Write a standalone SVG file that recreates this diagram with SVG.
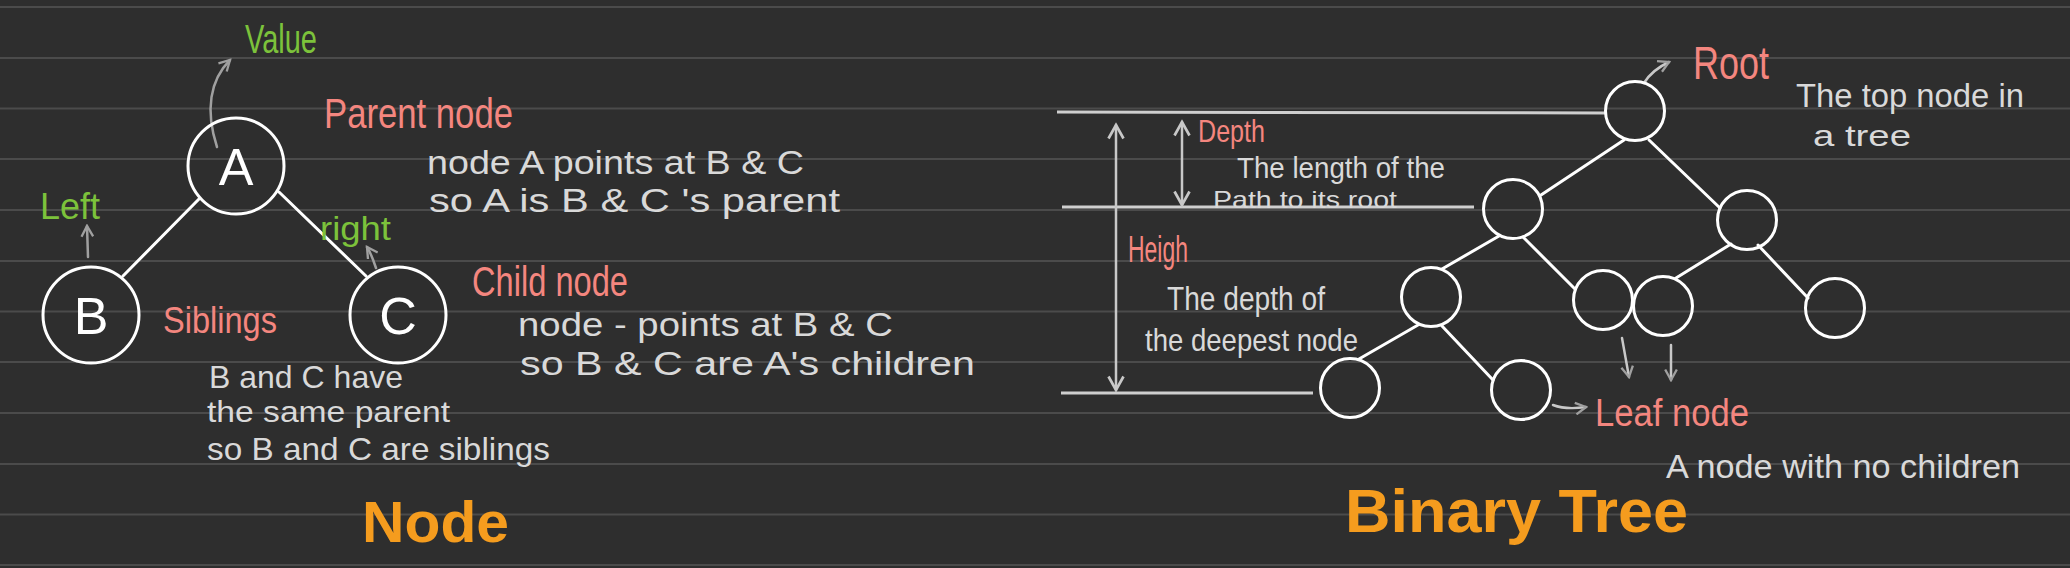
<svg xmlns="http://www.w3.org/2000/svg" width="2070" height="568" viewBox="0 0 2070 568">
<defs>
<style>
.rule{stroke:#4b4b4b;stroke-width:2}
.node{fill:none;stroke:#ffffff;stroke-width:3}
.edge{stroke:#ffffff;stroke-width:3;fill:none;stroke-linecap:round}
.meas{stroke:#cfcfcf;stroke-width:3;fill:none}
.arr{stroke:#a0a0a0;stroke-width:2.5;fill:none;stroke-linecap:round}
.arrl{stroke:#c8c8c8;stroke-width:2.5;fill:none;stroke-linecap:round}
text{font-family:"Liberation Sans","Noto Sans",sans-serif}
.lbl{fill:#ffffff;font-size:52px;text-anchor:middle}
.w{fill:#d9d9d9}
.pk{fill:#f4867f}
.gr{fill:#7cc23b}
.or{fill:#f59c1e;font-weight:bold}
</style>
<marker id="ah" viewBox="0 0 12 12" refX="10" refY="6" markerWidth="14" markerHeight="14" markerUnits="userSpaceOnUse" orient="auto-start-reverse">
<path d="M1,1 L10,6 L1,11" fill="none" stroke="#a0a0a0" stroke-width="2"/>
</marker>
<marker id="ahl" viewBox="0 0 12 12" refX="10" refY="6" markerWidth="18" markerHeight="18" markerUnits="userSpaceOnUse" orient="auto-start-reverse">
<path d="M1,1 L10,6 L1,11" fill="none" stroke="#c8c8c8" stroke-width="1.8"/>
</marker>
</defs>
<rect width="2070" height="568" fill="#2e2e2e"/>
<g id="ruled-lines">
<line class="rule" x1="0" y1="7" x2="2070" y2="7"/>
<line class="rule" x1="0" y1="58" x2="2070" y2="58"/>
<line class="rule" x1="0" y1="108.5" x2="2070" y2="108.5"/>
<line class="rule" x1="0" y1="159" x2="2070" y2="159"/>
<line class="rule" x1="0" y1="210" x2="2070" y2="210"/>
<line class="rule" x1="0" y1="261" x2="2070" y2="261"/>
<line class="rule" x1="0" y1="311.5" x2="2070" y2="311.5"/>
<line class="rule" x1="0" y1="362" x2="2070" y2="362"/>
<line class="rule" x1="0" y1="413" x2="2070" y2="413"/>
<line class="rule" x1="0" y1="464" x2="2070" y2="464"/>
<line class="rule" x1="0" y1="514.5" x2="2070" y2="514.5"/>
<line class="rule" x1="0" y1="565" x2="2070" y2="565"/>
</g>
<g id="connectors">
<line class="edge" x1="199" y1="199" x2="123" y2="276"/>
<line class="edge" x1="279" y1="192" x2="366" y2="276"/>
<line class="edge" x1="1624" y1="140" x2="1541" y2="195"/>
<line class="edge" x1="1649" y1="140" x2="1720" y2="208"/>
<line class="edge" x1="1499" y1="236" x2="1442" y2="269"/>
<line class="edge" x1="1523" y1="237" x2="1575" y2="289"/>
<line class="edge" x1="1731" y1="244" x2="1676" y2="278"/>
<line class="edge" x1="1758" y1="245" x2="1808" y2="298"/>
<line class="edge" x1="1418" y1="325" x2="1359" y2="359"/>
<line class="edge" x1="1442" y1="326" x2="1493" y2="380"/>
<path class="arr" d="M217,147 C205,110 210,80 230,60" marker-end="url(#ah)"/>
<path class="arr" d="M88,257 L87,226" marker-end="url(#ah)"/>
<path class="arr" d="M376,268 C373,259 371,253 367,247" marker-end="url(#ah)"/>
<path class="arrl" d="M1644,83 Q1652,70 1669,62" marker-end="url(#ah)"/>
<path class="arrl" d="M1622,338 L1629,377" marker-end="url(#ah)"/>
<path class="arrl" d="M1671,345 L1671,380" marker-end="url(#ah)"/>
<path class="arrl" d="M1553,405 Q1566,410 1586,407" marker-end="url(#ah)"/>
</g>
<g id="measures">
<line class="meas" x1="1057" y1="112" x2="1605" y2="113"/>
<line class="meas" x1="1062" y1="207" x2="1474" y2="207"/>
<line class="meas" x1="1061" y1="393" x2="1313" y2="393"/>
<line class="arrl" x1="1116" y1="125" x2="1116" y2="390" marker-start="url(#ahl)" marker-end="url(#ahl)"/>
<line class="arrl" x1="1182" y1="122" x2="1182" y2="205" marker-start="url(#ahl)" marker-end="url(#ahl)"/>
</g>
<g id="node-A"><circle class="node" cx="236" cy="166" r="48"/><text class="lbl" x="236" y="185">A</text></g>
<g id="node-B"><circle class="node" cx="91" cy="315" r="48"/><text class="lbl" x="91" y="334">B</text></g>
<g id="node-C"><circle class="node" cx="398" cy="315" r="48"/><text class="lbl" x="398" y="334">C</text></g>
<g id="tree-root"><circle class="node" cx="1635" cy="111" r="29.5"/></g>
<g id="tree-l1"><circle class="node" cx="1513" cy="209" r="29.5"/></g>
<g id="tree-r1"><circle class="node" cx="1747" cy="220" r="29.5"/></g>
<g id="tree-ll"><circle class="node" cx="1431" cy="297" r="29.5"/></g>
<g id="tree-lr"><circle class="node" cx="1603" cy="300" r="29.5"/></g>
<g id="tree-rl"><circle class="node" cx="1663" cy="306" r="29.5"/></g>
<g id="tree-rr"><circle class="node" cx="1835" cy="308" r="29.5"/></g>
<g id="tree-lll"><circle class="node" cx="1350" cy="388" r="29.5"/></g>
<g id="tree-llr"><circle class="node" cx="1521" cy="390" r="29.5"/></g>
<g id="labels" font-size="34">
<text class="gr" x="245" y="53" font-size="40" textLength="72" lengthAdjust="spacingAndGlyphs">Value</text>
<text class="pk" x="324" y="128" font-size="42" textLength="189" lengthAdjust="spacingAndGlyphs">Parent node</text>
<text class="w" x="427" y="174" font-size="34" textLength="377" lengthAdjust="spacingAndGlyphs">node A points at B &amp; C</text>
<text class="w" x="429" y="212" font-size="34" textLength="411" lengthAdjust="spacingAndGlyphs">so A is B &amp; C 's parent</text>
<text class="gr" x="40" y="219" font-size="36" textLength="60" lengthAdjust="spacingAndGlyphs">Left</text>
<text class="gr" x="320" y="240" font-size="34" textLength="71" lengthAdjust="spacingAndGlyphs">right</text>
<text class="pk" x="163" y="333" font-size="36" textLength="114" lengthAdjust="spacingAndGlyphs">Siblings</text>
<text class="pk" x="472" y="296" font-size="42" textLength="156" lengthAdjust="spacingAndGlyphs">Child node</text>
<text class="w" x="518" y="336" font-size="33" textLength="375" lengthAdjust="spacingAndGlyphs">node - points at B &amp; C</text>
<text class="w" x="520" y="375" font-size="33" textLength="455" lengthAdjust="spacingAndGlyphs">so B &amp; C are A's children</text>
<text class="w" x="209" y="388" font-size="32" textLength="194" lengthAdjust="spacingAndGlyphs">B and C have</text>
<text class="w" x="207" y="422" font-size="30" textLength="243" lengthAdjust="spacingAndGlyphs">the same parent</text>
<text class="w" x="207" y="460" font-size="32" textLength="343" lengthAdjust="spacingAndGlyphs">so B and C are siblings</text>
<text class="or" x="362" y="542" font-size="58" textLength="147" lengthAdjust="spacingAndGlyphs">Node</text>
<text class="pk" x="1693" y="79" font-size="46" textLength="76" lengthAdjust="spacingAndGlyphs">Root</text>
<text class="w" x="1796" y="107" font-size="34" textLength="228" lengthAdjust="spacingAndGlyphs">The top node in</text>
<text class="w" x="1813" y="146" font-size="30" textLength="98" lengthAdjust="spacingAndGlyphs">a tree</text>
<text class="pk" x="1198" y="142" font-size="32" textLength="67" lengthAdjust="spacingAndGlyphs">Depth</text>
<text class="w" x="1237" y="178" font-size="30" textLength="208" lengthAdjust="spacingAndGlyphs">The length of the</text>
<text class="w" x="1213" y="208" font-size="24" textLength="184" lengthAdjust="spacingAndGlyphs">Path to its root</text>
<text class="pk" x="1128" y="262" font-size="36" textLength="60" lengthAdjust="spacingAndGlyphs">Heigh</text>
<text class="w" x="1167" y="310" font-size="34" textLength="158" lengthAdjust="spacingAndGlyphs">The depth of</text>
<text class="w" x="1145" y="351" font-size="32" textLength="213" lengthAdjust="spacingAndGlyphs">the deepest node</text>
<text class="pk" x="1595" y="426" font-size="38" textLength="154" lengthAdjust="spacingAndGlyphs">Leaf node</text>
<text class="w" x="1666" y="478" font-size="34" textLength="354" lengthAdjust="spacingAndGlyphs">A node with no children</text>
<text class="or" x="1345" y="532" font-size="62" textLength="343" lengthAdjust="spacingAndGlyphs">Binary Tree</text>
</g>
</svg>
